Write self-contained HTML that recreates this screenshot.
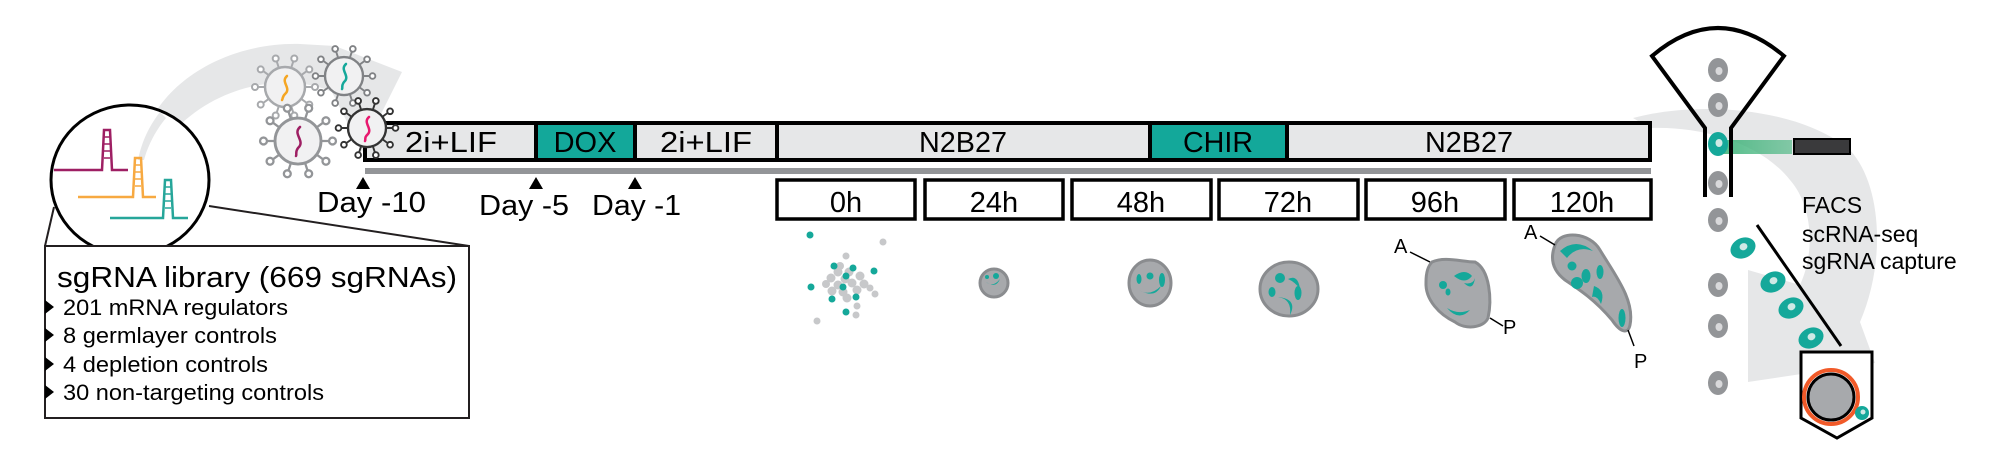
<!DOCTYPE html>
<html><head><meta charset="utf-8"><style>html,body{margin:0;padding:0;background:#fff}svg{display:block}</style></head>
<body>
<svg width="2000" height="476" viewBox="0 0 2000 476" xmlns="http://www.w3.org/2000/svg" font-family="Liberation Sans, sans-serif">
<defs>
<g id="vir">
<path d="M0,0 L27,0 M0,0 L21.8,15.9 M0,0 L8.3,25.7 M0,0 L-8.3,25.7 M0,0 L-21.8,15.9 M0,0 L-27,0 M0,0 L-21.8,-15.9 M0,0 L-8.3,-25.7 M0,0 L8.3,-25.7 M0,0 L21.8,-15.9" stroke-width="2"/>
<g fill="#fff" stroke-width="2"><circle cx="30" cy="0" r="3"/><circle cx="24.3" cy="17.6" r="3"/><circle cx="9.3" cy="28.5" r="3"/><circle cx="-9.3" cy="28.5" r="3"/><circle cx="-24.3" cy="17.6" r="3"/><circle cx="-30" cy="0" r="3"/><circle cx="-24.3" cy="-17.6" r="3"/><circle cx="-9.3" cy="-28.5" r="3"/><circle cx="9.3" cy="-28.5" r="3"/><circle cx="24.3" cy="-17.6" r="3"/></g>
<circle r="20" fill="#f1f1f2" stroke-width="2.5"/>
</g>
<g id="gc"><ellipse rx="10" ry="12" fill="#939598"/><ellipse cx="1" cy="1" rx="3.5" ry="4" fill="#d9d9db"/></g>
<g id="tc"><ellipse rx="13" ry="10" fill="#15a89a"/><ellipse cx="1" cy="-1" rx="4" ry="3.5" fill="#cfe9e5"/></g>
<linearGradient id="beam" x1="0" x2="1"><stop offset="0" stop-color="#3fb37a" stop-opacity="0.9"/><stop offset="1" stop-color="#3fb37a" stop-opacity="0.6"/></linearGradient>
</defs>

<!-- gray arcs -->
<path d="M138,160 C148,85 225,42 300,44 L335,46 L402,72 L362,152 L332,92 C290,72 200,80 152,160 Z" fill="#e6e7e8"/>
<path d="M1633,118 C1700,100 1800,108 1850,150 C1882,185 1886,262 1860,322 L1875,363 L1748,382 L1748,270 L1800,285 C1816,250 1812,205 1790,180 C1760,142 1700,126 1650,128 Z" fill="#e6e7e8"/>

<!-- magnifier circle -->
<line x1="54" y1="207" x2="45" y2="246" stroke="#231f20" stroke-width="2"/>
<line x1="209" y1="206" x2="469" y2="246" stroke="#231f20" stroke-width="2"/>
<ellipse cx="130" cy="180" rx="79" ry="75" fill="#fff" stroke="#000" stroke-width="3"/>
<path d="M138,160 C142,140 150,125 160,112 L166,118 C156,130 148,145 144,160Z" fill="#e6e7e8"/>
<g fill="none" stroke-width="2.5">
<path d="M54,170 L102,170 L104,130 L110,130 L112,170 L128,170" stroke="#9e1f63"/>
<path d="M104,137 h6 M104,144 h6 M104,151 h6 M104,158 h6" stroke="#9e1f63" stroke-width="1.5"/>
<path d="M78,197 L133,197 L135,158 L141,158 L143,197 L156,197" stroke="#f7a941"/>
<path d="M135,165 h6 M135,172 h6 M135,179 h6 M135,186 h6" stroke="#f7a941" stroke-width="1.5"/>
<path d="M110,218 L163,218 L165,180 L171,180 L173,218 L188,218" stroke="#26a69a"/>
<path d="M165,187 h6 M165,194 h6 M165,201 h6 M165,208 h6" stroke="#26a69a" stroke-width="1.5"/>
</g>

<!-- library box -->
<rect x="45" y="246" width="424" height="172" fill="#fff" stroke="#231f20" stroke-width="2"/>
<text x="57" y="287" font-size="29" textLength="400" lengthAdjust="spacingAndGlyphs">sgRNA library (669 sgRNAs)</text>
<g font-size="22">
<text x="63" y="315" textLength="225" lengthAdjust="spacingAndGlyphs">201 mRNA regulators</text>
<text x="63" y="343" textLength="214" lengthAdjust="spacingAndGlyphs">8 germlayer controls</text>
<text x="63" y="372" textLength="205" lengthAdjust="spacingAndGlyphs">4 depletion controls</text>
<text x="63" y="400" textLength="261" lengthAdjust="spacingAndGlyphs">30 non-targeting controls</text>
</g>
<g fill="#000"><path d="M45,300 L54,307 L45,314Z"/><path d="M45,328 L54,335 L45,342Z"/><path d="M45,357 L54,364 L45,371Z"/><path d="M45,385 L54,392 L45,399Z"/></g>

<!-- timeline bar -->
<rect x="365" y="123" width="1285" height="37" fill="#e6e7e8" stroke="#000" stroke-width="4"/>
<rect x="536" y="123" width="99" height="37" fill="#13a89a" stroke="#000" stroke-width="4"/>
<rect x="1150" y="123" width="137" height="37" fill="#13a89a" stroke="#000" stroke-width="4"/>
<line x1="777" y1="123" x2="777" y2="160" stroke="#000" stroke-width="4"/>
<rect x="365" y="168" width="1286" height="6" fill="#939598"/>
<g font-size="29" text-anchor="middle">
<text x="451" y="152" textLength="92" lengthAdjust="spacingAndGlyphs">2i+LIF</text><text x="585" y="152">DOX</text><text x="706" y="152" textLength="92" lengthAdjust="spacingAndGlyphs">2i+LIF</text>
<text x="963" y="152" textLength="88" lengthAdjust="spacingAndGlyphs">N2B27</text><text x="1218" y="152" textLength="70" lengthAdjust="spacingAndGlyphs">CHIR</text><text x="1469" y="152" textLength="88" lengthAdjust="spacingAndGlyphs">N2B27</text>
</g>
<g fill="#000"><path d="M363,177 L370,189 L356,189Z"/><path d="M536,177 L543,189 L529,189Z"/><path d="M635,177 L642,189 L628,189Z"/></g>
<g font-size="29">
<text x="317" y="212" textLength="109" lengthAdjust="spacingAndGlyphs">Day -10</text>
<text x="479" y="215" textLength="90" lengthAdjust="spacingAndGlyphs">Day -5</text>
<text x="592" y="215" textLength="89" lengthAdjust="spacingAndGlyphs">Day -1</text>
</g>

<!-- viruses (on top of bar) -->
<use href="#vir" stroke="#a7a9ac" transform="translate(285 87) scale(1.0)"/>
<use href="#vir" stroke="#808285" transform="translate(344 76) scale(0.95)"/>
<use href="#vir" stroke="#939598" transform="translate(298 141) scale(1.15)"/>
<use href="#vir" stroke="#333" transform="translate(367 128) scale(0.95)"/>
<g fill="none" stroke-width="2.5" stroke-linecap="round">
<path d="M287,76 C280,82 292,88 285,94 C282,97 283,99 282,100" stroke="#f5a623"/>
<path d="M346,64 C339,70 351,76 344,82 C341,86 343,88 342,89" stroke="#15a89a"/>
<path d="M300,127 C292,134 306,141 298,148 C295,152 297,154 296,156" stroke="#9e1f63"/>
<path d="M369,117 C362,123 374,129 367,135 C364,138 366,140 365,141" stroke="#e8196f"/>
</g>

<!-- hour boxes -->
<g fill="#fff" stroke="#000" stroke-width="3.5">
<rect x="777" y="180" width="138" height="39"/><rect x="925" y="180" width="138" height="39"/><rect x="1072" y="180" width="139" height="39"/>
<rect x="1219" y="180" width="139" height="39"/><rect x="1366" y="180" width="139" height="39"/><rect x="1514" y="180" width="137" height="39"/>
</g>
<g font-size="29" text-anchor="middle">
<text x="846" y="212">0h</text><text x="994" y="212">24h</text><text x="1141" y="212">48h</text><text x="1288" y="212">72h</text><text x="1435" y="212">96h</text><text x="1582" y="212">120h</text>
</g>

<!-- 0h cluster -->
<g fill="#c7c8ca">
<circle cx="883" cy="242" r="3.5"/><circle cx="846" cy="256" r="3.5"/><circle cx="817" cy="321" r="3.5"/><circle cx="856" cy="315" r="3.5"/><circle cx="857" cy="306" r="3.5"/><circle cx="875" cy="294" r="3.5"/><circle cx="870" cy="288" r="3.5"/>
<circle cx="838" cy="272" r="4.5"/><circle cx="845" cy="279" r="4.5"/><circle cx="852" cy="283" r="4.5"/><circle cx="838" cy="285" r="4.5"/><circle cx="860" cy="276" r="4.5"/><circle cx="843" cy="292" r="4.5"/><circle cx="831" cy="278" r="4.5"/><circle cx="849" cy="272" r="4.5"/><circle cx="857" cy="290" r="4.5"/><circle cx="832" cy="291" r="4.5"/><circle cx="864" cy="284" r="4.5"/><circle cx="847" cy="298" r="4.5"/><circle cx="840" cy="266" r="4"/><circle cx="826" cy="284" r="4"/>
</g>
<g fill="#15a89a">
<circle cx="810" cy="235" r="3.5"/><circle cx="834" cy="266" r="3.5"/><circle cx="853" cy="268" r="3.5"/><circle cx="846" cy="276" r="3.5"/><circle cx="874" cy="271" r="3.5"/><circle cx="811" cy="287" r="3.5"/><circle cx="843" cy="287" r="3.5"/><circle cx="832" cy="299" r="3.5"/><circle cx="856" cy="297" r="3.5"/><circle cx="846" cy="312" r="3.5"/>
</g>

<!-- organoids -->
<g fill="#a7a9ac" stroke="#8a8c8f" stroke-width="3">
<ellipse cx="994" cy="283" rx="14" ry="14"/>
<ellipse cx="1150" cy="283" rx="21" ry="23"/>
<ellipse cx="1289" cy="289" rx="29" ry="27"/>
<path d="M1432,262 C1445,256 1462,262 1475,262 C1490,270 1492,300 1488,318 C1484,328 1465,330 1455,322 C1440,315 1425,300 1426,282 C1426,272 1428,266 1432,262Z"/>
<path d="M1555,245 C1560,230 1590,232 1600,250 C1615,275 1635,300 1630,325 C1628,335 1620,332 1612,320 C1595,300 1580,290 1565,280 C1552,270 1550,258 1555,245Z"/>
</g>
<g fill="#15a89a">
<path d="M986,282 q7,6 14,-3 q-4,10 -14,3Z"/><circle cx="996" cy="276" r="3"/><circle cx="987" cy="277" r="2"/>
<path d="M1139,290 q11,7 22,-4 q-6,13 -22,4Z"/><circle cx="1150" cy="276" r="3.5"/><ellipse cx="1139" cy="279" rx="2.5" ry="5"/><ellipse cx="1162" cy="280" rx="3" ry="7"/>
<path d="M1278,297 q14,2 12,18 q8,-16 -12,-18Z"/><circle cx="1280" cy="278" r="5"/><path d="M1288,279 q10,-5 12,10 q-5,-7 -12,-10Z"/><ellipse cx="1272" cy="292" rx="3.5" ry="5"/><ellipse cx="1298" cy="293" rx="3.5" ry="7"/>
<path d="M1454,276 q11,-8 18,0 q-7,9 -18,0Z"/><path d="M1464,283 q9,2 11,-5 q-2,14 -11,5Z"/><circle cx="1443" cy="285" r="4"/><path d="M1447,308 q11,7 23,2 q-11,12 -23,-2Z"/><ellipse cx="1448" cy="292" rx="2.5" ry="3.5"/>
<path d="M1560,251 q16,-14 33,0 q-16,-6 -26,7Z"/><circle cx="1572" cy="266" r="4.5"/><ellipse cx="1586" cy="276" rx="4.5" ry="7"/><circle cx="1577" cy="283" r="6"/><path d="M1594,286 q12,4 7,18 q-4,-9 -9,-7Z"/><ellipse cx="1622" cy="318" rx="3.5" ry="9"/><ellipse cx="1600" cy="272" rx="3.5" ry="7"/>
</g>
<g stroke="#000" stroke-width="1.5"><line x1="1410" y1="252" x2="1430" y2="262"/><line x1="1490" y1="318" x2="1503" y2="326"/><line x1="1540" y1="236" x2="1555" y2="245"/><line x1="1628" y1="330" x2="1634" y2="346"/></g>
<g font-size="20"><text x="1394" y="253">A</text><text x="1503" y="334">P</text><text x="1524" y="239">A</text><text x="1634" y="368">P</text></g>

<!-- FACS -->
<rect x="1718" y="140" width="74" height="14" fill="url(#beam)"/>
<rect x="1794" y="139" width="56" height="15" fill="#3a3a3c" stroke="#000" stroke-width="2"/>
<path d="M1705,197 L1705,128 L1652,56 Q1718,0 1784,56 L1731,128 L1731,197" fill="none" stroke="#000" stroke-width="4"/>
<use href="#gc" x="1718" y="70"/><use href="#gc" x="1718" y="105"/><use href="#gc" x="1718" y="183"/><use href="#gc" x="1718" y="220"/><use href="#gc" x="1718" y="285"/><use href="#gc" x="1718" y="326"/><use href="#gc" x="1718" y="383"/>
<ellipse cx="1718" cy="144" rx="10" ry="12" fill="#15a89a"/><ellipse cx="1719" cy="143" rx="3.5" ry="4" fill="#cfe9e5"/>
<use href="#tc" transform="translate(1743 248) rotate(-25)"/><use href="#tc" transform="translate(1773 282) rotate(-25)"/><use href="#tc" transform="translate(1791 308) rotate(-25)"/><use href="#tc" transform="translate(1811 338) rotate(-25)"/>
<line x1="1757" y1="225" x2="1841" y2="346" stroke="#000" stroke-width="3"/>
<path d="M1801,352 L1872,352 L1872,418 L1837,438 L1801,418 Z" fill="#fff" stroke="#000" stroke-width="3"/>
<circle cx="1831" cy="397" r="27" fill="none" stroke="#f15a29" stroke-width="4"/>
<circle cx="1831" cy="397" r="23" fill="#a7a9ac" stroke="#000" stroke-width="3"/>
<circle cx="1862" cy="413" r="7" fill="#15a89a"/><circle cx="1863" cy="412" r="2.5" fill="#cfe9e5"/>
<g font-size="23"><text x="1802" y="213">FACS</text><text x="1802" y="242">scRNA-seq</text><text x="1802" y="269">sgRNA capture</text></g>
</svg>
</body></html>
